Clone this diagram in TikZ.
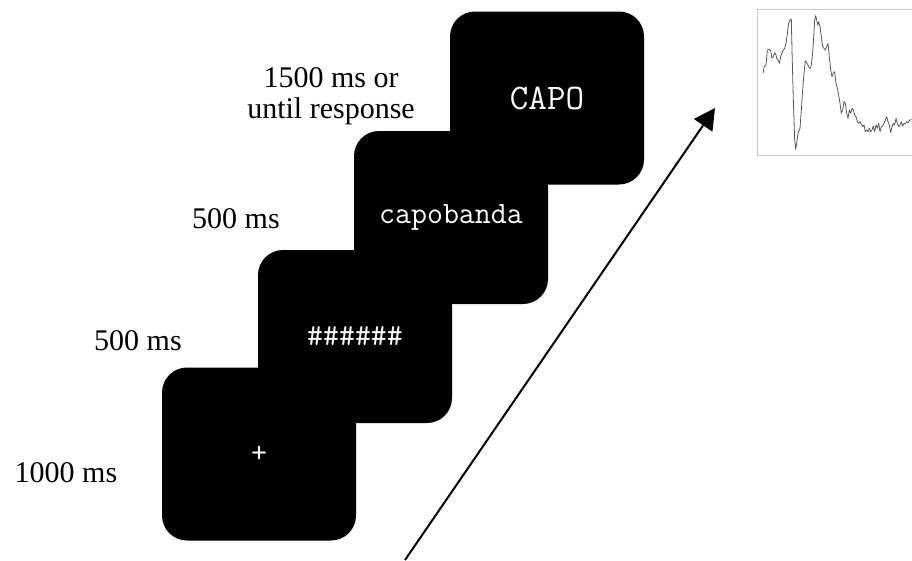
\documentclass[tikz,border=0pt]{standalone}
\usepackage{fontspec}
\setmainfont{Liberation Serif}
\usetikzlibrary{arrows.meta}
\tikzset{
	stimbox/.style={fill=black, text=white, rounded corners=25pt, minimum width=194pt, minimum height=173pt, inner sep=0pt, font=\ttfamily\fontsize{31}{33}\selectfont},
	durlabel/.style={anchor=base, align=center, inner sep=0pt, font=\fontsize{30}{31}\selectfont}
}
\begin{document}
\begin{tikzpicture}[x=1pt, y=-1pt]
	\useasboundingbox (0,0) rectangle (912,560);
	% draw stimulus screens, back to front
	\node[stimbox, font=\ttfamily\fontsize{36}{38}\selectfont] (target) at (547,98) {CAPO};
	\node[stimbox] (prime) at (451,217.5) {capobanda};
	\node[stimbox] (mask) at (355,336.5) {\#\#\#\#\#\#};
	\node[stimbox] (fix) at (259,454) {+};
	% durations
	\node[durlabel] (durtarget) at (331,118) {1500 ms or\\until response};
	\node[durlabel] (durprime) at (236,228) {500 ms};
	\node[durlabel] (durmask) at (138,350) {500 ms};
	\node[durlabel] (durfix) at (66,482) {1000 ms};
	% add arrow
	\coordinate (arrbase) at (405,560);
	\coordinate (arrtip) at (715,108);
	\draw[line width=2pt, -{Triangle[length=21pt, width=22pt]}] (arrbase) -- (arrtip);
	% draw ERP panel
	\draw[black!20, line width=1pt] (912,9) -- (757,9) -- (757,155) -- (912,155);
	\begin{scope}[shift={(750pt,0pt)}, x=0.3333pt, y=-0.3333pt]
		\draw[black!65, line width=0.8pt, line join=round] plot coordinates {
			(40,218) (42,200) (48,195) (52,150) (58,148) (62,152) (66,175) (70,170) (74,158) (78,165)
			(80,175) (84,180) (88,190) (92,170) (96,158) (100,150) (104,145) (108,130) (112,100) (116,70)
			(120,60) (124,58) (126,150) (130,300) (134,420) (137,448) (140,430) (144,400) (150,385) (154,330)
			(158,270) (162,220) (166,182) (170,188) (174,195) (178,205) (182,205) (186,180) (190,130) (194,60)
			(197,47) (200,60) (203,75) (206,65) (210,80) (214,110) (218,140) (222,145) (226,150) (230,140)
			(234,130) (238,170) (242,210) (246,230) (250,220) (254,215) (258,250) (262,265) (266,285) (270,310)
			(274,340) (278,330) (282,305) (286,310) (290,340) (294,355) (298,330) (302,340) (306,325) (310,330)
			(314,345) (318,350) (322,365) (326,370) (330,365) (334,372) (338,380) (342,375) (346,395) (350,390)
			(354,395) (358,385) (362,395) (366,390) (370,378) (374,395) (378,375) (382,385) (386,370) (390,395)
			(394,380) (398,378) (402,370) (406,360) (410,350) (414,365) (418,375) (422,398) (426,380) (430,370)
			(434,375) (438,355) (442,370) (446,380) (450,375) (454,365) (458,378) (462,370) (466,372) (470,365)
			(474,368) (478,362) (484,358)};
	\end{scope}
\end{tikzpicture}
\end{document}
